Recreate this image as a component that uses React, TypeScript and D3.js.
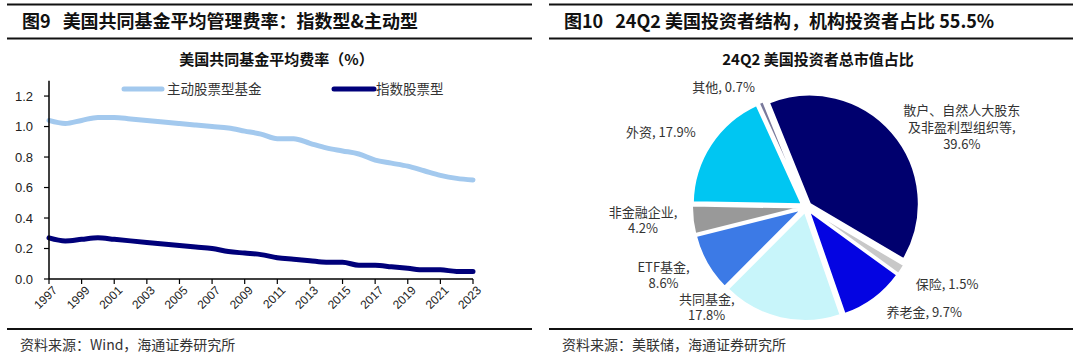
import { useMemo } from 'react';
import * as d3 from 'd3';

const WIDTH = 1080;
const HEIGHT = 361;
const FONT = '"Liberation Sans", Arial, "Noto Sans CJK SC", sans-serif';
const CJK = '"Noto Sans CJK SC", "Liberation Sans", sans-serif';

// left chart: average expense ratio (%)
const years = [
  1997, 1998, 1999, 2000, 2001, 2002, 2003, 2004, 2005, 2006, 2007, 2008, 2009, 2010,
  2011, 2012, 2013, 2014, 2015, 2016, 2017, 2018, 2019, 2020, 2021, 2022, 2023,
];
const activeFee = [
  1.04, 1.02, 1.04, 1.06, 1.06, 1.05, 1.04, 1.03, 1.02, 1.01, 1.0, 0.99, 0.97, 0.95,
  0.92, 0.92, 0.89, 0.86, 0.84, 0.82, 0.78, 0.76, 0.74, 0.71, 0.68, 0.66, 0.65,
];
const indexFee = [
  0.27, 0.25, 0.26, 0.27, 0.26, 0.25, 0.24, 0.23, 0.22, 0.21, 0.2, 0.18, 0.17, 0.16,
  0.14, 0.13, 0.12, 0.11, 0.11, 0.09, 0.09, 0.08, 0.07, 0.06, 0.06, 0.05, 0.05,
];
const yTicks = [0, 0.2, 0.4, 0.6, 0.8, 1.0, 1.2];
const xTickYears = [1997, 1999, 2001, 2003, 2005, 2007, 2009, 2011, 2013, 2015, 2017, 2019, 2021, 2023];
const seriesNames = ['主动股票型基金', '指数股票型'];

// right chart: 24Q2 investor structure (%)
const investorNames = ['散户、自然人大股东及非盈利型组织等', '保险', '养老金', '共同基金', 'ETF基金', '非金融企业', '外资', '其他'];
const investorShares = [39.6, 1.5, 9.7, 17.8, 8.6, 4.2, 17.9, 0.7];

const color = {
  active: '#a3c9ee',
  index: '#00007a',
  text: '#222',
  pie: ['#00006e', '#c8c8c8', '#0404e2', '#c8f5fa', '#3c7ae6', '#999999', '#00c6f2', '#7a7a9c'],
};

// label layout: how each label wraps, and a nudge from its default spot
const labelLayout: Record<string, { lines: (n: string, v: string) => string[]; dx: number; dy: number }> = {
  散户: { lines: (_, v) => ['散户、自然人大股东', '及非盈利型组织等,', v], dx: 36, dy: 23 },
  保险: { lines: (n, v) => [`${n}, ${v}`], dx: 9, dy: -9 },
  养老金: { lines: (n, v) => [`${n}, ${v}`], dx: 24, dy: -22 },
  共同基金: { lines: (n, v) => [`${n},`, v], dx: -64, dy: -54 },
  ETF基金: { lines: (n, v) => [`${n},`, v], dx: -5, dy: -10 },
  非金融企业: { lines: (n, v) => [`${n},`, v], dx: -6, dy: -5 },
  外资: { lines: (n, v) => [`${n}, ${v}`], dx: -13, dy: 12 },
  其他: { lines: (n, v) => [`${n}, ${v}`], dx: -20, dy: 25 },
};

const Header = ({ x0, x1, fig, title, sub, source }: { x0: number; x1: number; fig: string; title: string; sub: string; source: string }) => (
  <g>
    <line x1={x0} x2={x1} y1={4.5} y2={4.5} stroke="#111" strokeWidth={2} />
    <text x={x0 + 15} y={28} fontFamily={CJK} fontWeight="bold" fontSize={18} fill="#111">
      {fig}
      <tspan dx={12}>{title}</tspan>
    </text>
    <line x1={x0} x2={x1} y1={38.5} y2={38.5} stroke="#111" strokeWidth={2} />
    <text x={(x0 + x1) / 2 + 7} y={65} textAnchor="middle" fontFamily={CJK} fontWeight="bold" fontSize={15} fill="#111">
      {sub}
    </text>
    <line x1={x0} x2={x1} y1={329} y2={329} stroke="#111" strokeWidth={2} />
    <text x={x0 + 13} y={350} fontFamily={CJK} fontSize={14} fill="#333">
      {source}
    </text>
  </g>
);

const LineChart = () => {
  const xScale = useMemo(() => d3.scaleLinear().domain([1997, 2023]).range([49, 473]), []);
  const yScale = useMemo(() => d3.scaleLinear().domain([0, 1.3]).range([279, 80.8]), []);

  const line = d3
    .line<number>()
    .curve(d3.curveMonotoneX)
    .x((_, i) => xScale(years[i]))
    .y(d => yScale(d));

  const legendY = 89;
  return (
    <g fontFamily={FONT}>
      <path d={line(activeFee) || ''} fill="none" stroke={color.active} strokeWidth={5} strokeLinejoin="round" strokeLinecap="round" />
      <path d={line(indexFee) || ''} fill="none" stroke={color.index} strokeWidth={5} strokeLinejoin="round" strokeLinecap="round" />

      {/* y axis */}
      <line x1={xScale(1997)} x2={xScale(1997)} y1={yScale(1.3)} y2={yScale(0)} stroke="#000" strokeWidth={1.5} />
      {yTicks.map(t => (
        <g key={t} transform={`translate(${xScale(1997)},${yScale(t)})`}>
          <line x1={-5} x2={0} stroke="#000" strokeWidth={1.2} />
          <text x={-16} dy="0.36em" textAnchor="end" fontSize={13} fill={color.text}>
            {d3.format('.1f')(t)}
          </text>
        </g>
      ))}

      {/* x axis */}
      <line x1={xScale(1997)} x2={xScale(2023)} y1={yScale(0)} y2={yScale(0)} stroke="#000" strokeWidth={1.5} />
      {xTickYears.map(yr => (
        <g key={yr} transform={`translate(${xScale(yr)},${yScale(0)})`}>
          <line y1={0} y2={5} stroke="#000" strokeWidth={1.2} />
          <g transform="translate(6,9) rotate(-45)">
            <text textAnchor="end" dy="0.35em" fontSize={12} fill={color.text}>
              {yr}
            </text>
          </g>
        </g>
      ))}

      {/* legend */}
      <line x1={124} x2={162} y1={legendY} y2={legendY} stroke={color.active} strokeWidth={5} strokeLinecap="round" />
      <text x={167} y={legendY} dy="0.36em" fontFamily={CJK} fontSize={13.5} fill="#333">
        {seriesNames[0]}
      </text>
      <line x1={334} x2={374} y1={legendY} y2={legendY} stroke={color.index} strokeWidth={5} strokeLinecap="round" />
      <text x={376} y={legendY} dy="0.36em" fontFamily={CJK} fontSize={13.5} fill="#333">
        {seriesNames[1]}
      </text>
    </g>
  );
};

const PieChart = () => {
  const cx = 806;
  const cy = 207;
  const radius = 109;
  const explode = 5;
  const start = (-22 * Math.PI) / 180;

  const arcs = d3
    .pie<number>()
    .sort(null)
    .startAngle(start)
    .endAngle(start + 2 * Math.PI)
    .value(d => d)(investorShares);
  const arcGen = d3.arc<d3.PieArcDatum<number>>().innerRadius(0).outerRadius(radius);
  const labelArc = d3.arc<d3.PieArcDatum<number>>().innerRadius(158).outerRadius(158);

  return (
    <g transform={`translate(${cx},${cy})`} fontFamily={CJK}>
      {arcs.map((a, i) => {
        const mid = (a.startAngle + a.endAngle) / 2;
        const tx = Math.sin(mid) * explode;
        const ty = -Math.cos(mid) * explode;
        return (
          <path
            key={investorNames[i]}
            d={arcGen(a) || ''}
            transform={`translate(${tx},${ty})`}
            fill={color.pie[i]}
            stroke="#fff"
            strokeWidth={2}
            strokeLinejoin="round"
          />
        );
      })}
      {arcs.map((a, i) => {
        const name = investorNames[i];
        const key = Object.keys(labelLayout).find(k => name.startsWith(k)) || name;
        const layout = labelLayout[key];
        const lines = layout.lines(name, `${investorShares[i]}%`);
        const [lx, ly] = labelArc.centroid(a);
        const lh = lines.length === 3 ? 17 : 16;
        const top = ly + layout.dy - ((lines.length - 1) * lh) / 2;
        return (
          <g key={name}>
            {lines.map((l, j) => (
              <text key={j} x={lx + layout.dx} y={top + j * lh} dy="0.36em" textAnchor="middle" fontSize={13} fill="#333">
                {l}
              </text>
            ))}
          </g>
        );
      })}
    </g>
  );
};

export default function App() {
  return (
    <svg width={WIDTH} height={HEIGHT} style={{ position: 'absolute', left: 0, top: 0, background: '#fff' }}>
      <rect width={WIDTH} height={HEIGHT} fill="#fff" />
      <Header x0={7} x1={532} fig="图9" title="美国共同基金平均管理费率：指数型&主动型" sub="美国共同基金平均费率（%）" source="资料来源：Wind，海通证券研究所" />
      <Header x0={549} x1={1073} fig="图10" title="24Q2 美国投资者结构，机构投资者占比 55.5%" sub="24Q2 美国投资者总市值占比" source="资料来源：美联储，海通证券研究所" />
      <LineChart />
      <PieChart />
    </svg>
  );
}
